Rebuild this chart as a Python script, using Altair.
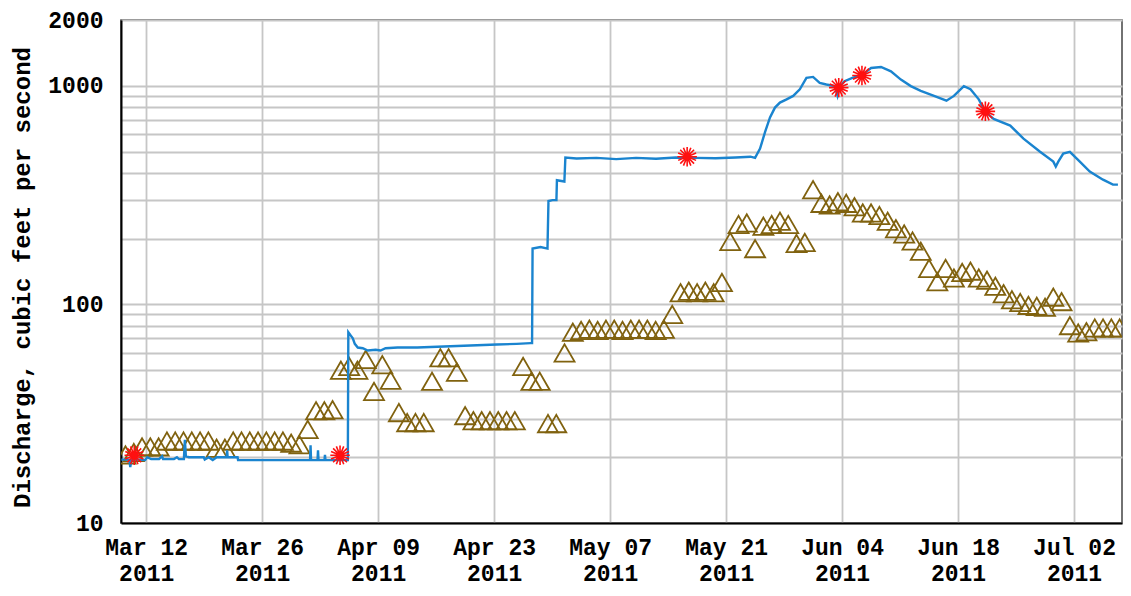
import altair as alt
import pandas as pd

# ---- data ----
# Daily values (brown triangles), one per day starting 2011-03-09
tri_cfs = [20.5, 21, 22.3, 22.3, 22.3, 23.7, 23.7, 23.7, 23.7, 23.7,
           23.7, 22, 22, 23.7, 23.7, 23.7, 23.7, 23.7, 23.7, 23.7,
           23.2, 22.8, 26.8, 32.6, 32.6, 33, 50, 52, 50, 56,
           40, 53, 45, 32, 28.8, 28.8, 28.8, 44.5, 57, 57,
           49, 31, 29.4, 29.4, 29.4, 29.4, 29.4, 29.4, 52, 44.5,
           44.5, 28.5, 28.5, 60, 74.6, 76, 77, 76, 77, 77,
           76, 77, 77, 77, 76, 77, 90, 113, 115, 113,
           115, 113, 126, 194, 232, 236, 180, 228, 232, 240,
           232, 190, 192, 335, 290, 285, 295, 290, 280, 262,
           262, 255, 240, 222, 210, 195, 175, 146, 127, 146,
           132, 140, 142, 132, 129, 121, 112, 105, 102, 99,
           98, 97, 108, 103, 80, 74, 75, 78, 78, 78, 78]

# Instantaneous discharge (blue line): days since 2011-03-09 00:00, cfs
blue_t = [0.00, 0.60, 0.96, 1.08, 1.20, 2.16, 2.88, 3.12, 3.60, 4.56,
          4.92, 5.04, 6.35, 6.71, 6.95, 7.55, 7.67, 7.79, 8.15, 9.95,
          10.07, 10.55, 11.03, 11.51, 12.71, 12.77, 12.83, 14.03, 14.09, 22.78,
          22.84, 22.90, 23.68, 23.74, 23.80, 24.52, 24.58, 24.64, 27.34, 27.40,
          27.70, 27.94, 28.18, 28.54, 29.14, 29.74, 30.70, 31.29, 31.89, 33.33,
          35.73, 38.13, 40.53, 42.93, 45.32, 47.72, 49.40, 49.58, 49.64, 50.60,
          51.44, 51.56, 52.04, 52.52, 52.58, 53.48, 53.60, 54.95, 57.35, 59.74,
          62.14, 64.54, 66.94, 69.34, 71.74, 74.14, 75.94, 76.50, 77.10, 77.70,
          78.30, 78.90, 79.50, 80.30, 81.10, 81.90, 82.70, 83.50, 84.30, 85.10,
          86.10, 86.45, 86.70, 87.30, 88.25, 89.45, 90.50, 91.70, 92.90, 94.10,
          95.30, 96.50, 98.10, 99.60, 100.50, 101.70, 102.50, 103.50, 104.30, 105.30,
          107.30, 108.90, 110.90, 112.50, 112.80, 113.10, 113.70, 114.50, 115.70, 116.90,
          118.50, 119.70, 120.30]
blue_cfs = [19.5, 19.5, 19.5, 18.0, 19.5, 19.5, 19.4, 20.0, 19.6, 19.6,
            20.2, 19.6, 19.6, 20.0, 19.6, 19.6, 24.0, 20.2, 20.0, 20.0,
            19.5, 20.0, 19.4, 20.0, 20.0, 21.5, 20.0, 20.0, 19.4, 19.4,
            22.7, 19.4, 19.4, 21.5, 19.4, 19.4, 20.5, 19.4, 19.4, 74.6,
            72, 70, 66, 63.5, 63, 61.5, 62, 61.5, 63, 63.5,
            63.5, 64, 64.5, 65, 65.5, 66, 66.5, 66.5, 180, 183,
            180, 297, 300, 300, 370, 365, 470, 465, 468, 462,
            468, 464, 470, 468, 466, 470, 474, 468, 516, 614,
            717, 795, 838, 867, 899, 964, 1087, 1098, 1031, 1014,
            997, 900, 990, 1049, 1087, 1125, 1206, 1219, 1164, 1068,
            997, 948, 899, 855, 899, 997, 964, 867, 760, 705,
            658, 573, 499, 450, 427, 450, 490, 499, 450, 405,
            372, 353, 353]

# Field measurements (red asterisks)
meas_t = [1.56, 26.4, 68.3, 86.6, 89.4, 104.3]
meas_cfs = [20.4, 20.4, 474, 981, 1114, 764]

tick_dates = [(3, 12), (3, 26), (4, 9), (4, 23), (5, 7), (5, 21), (6, 4), (6, 18), (7, 2)]
y_grid = [10, 20, 30, 40, 50, 60, 70, 80, 90,
          100, 200, 300, 400, 500, 600, 700, 800, 900, 1000, 2000]
y_labels = [10, 100, 1000, 2000]

# ---- build tables ----
base = pd.Timestamp("2011-03-09")
tri_df = pd.DataFrame({
    "date": [base + pd.Timedelta(days=i, hours=12) for i in range(len(tri_cfs))],
    "cfs": tri_cfs,
})
blue_df = pd.DataFrame({
    "date": [base + pd.Timedelta(days=t) for t in blue_t],
    "cfs": blue_cfs,
})
meas_df = pd.DataFrame({
    "date": [base + pd.Timedelta(days=t) for t in meas_t],
    "cfs": meas_cfs,
})

FONT = "Liberation Mono"
x_scale = alt.Scale(domain=[alt.DateTime(year=2011, month=3, date=8, hours=23),
                            alt.DateTime(year=2011, month=7, date=7, hours=19)])
y_scale = alt.Scale(type="log", domain=[10, 2000], nice=False)

label_cond = " || ".join(f"datum.value == {v}" for v in y_labels)

x_enc = alt.X("date:T", scale=x_scale, title=None,
              axis=alt.Axis(values=[alt.DateTime(year=2011, month=m, date=d) for m, d in tick_dates],
                            labelExpr="[timeFormat(datum.value, '%b %d'), timeFormat(datum.value, '%Y')]",
                            ticks=False, labelPadding=13, labelLineHeight=26,
                            labelFontSize=23, labelFont=FONT, labelFontWeight="bold",
                            labelColor="black", domainColor="black", domainWidth=2,
                            gridColor="#c6c6c6", gridWidth=1.8))
y_enc = alt.Y("cfs:Q", scale=y_scale,
              title="Discharge, cubic feet per second",
              axis=alt.Axis(values=y_grid,
                            labelExpr=f"({label_cond}) ? format(datum.value, 'd') : ''",
                            ticks=False, labelPadding=18,
                            labelFontSize=23, labelFont=FONT, labelFontWeight="bold",
                            labelColor="black", domainColor="black", domainWidth=2,
                            gridColor="#c6c6c6", gridWidth=1.8,
                            titleFont=FONT, titleFontSize=24, titleFontWeight="bold",
                            titleColor="black", titleAngle=270, titleX=-99, titleY=257,
                            titleAlign="center", titleBaseline="middle"))

tri = alt.Chart(tri_df).mark_point(
    shape="triangle-up", filled=False, size=400, stroke="#80620f",
    strokeWidth=1.8, opacity=1, clip=True
).encode(x=x_enc, y=y_enc)

line = alt.Chart(blue_df).mark_line(
    color="#1a84cf", strokeWidth=2.4, clip=True
).encode(x="date:T", y="cfs:Q")

star_path = ("M-1,0L1,0M0,-1L0,1M-0.71,-0.71L0.71,0.71M-0.71,0.71L0.71,-0.71"
             "M-0.92,-0.38L0.92,0.38M-0.38,-0.92L0.38,0.92M0.38,-0.92L-0.38,0.92M0.92,-0.38L-0.92,0.38")
meas = alt.Chart(meas_df).mark_point(
    shape=star_path, filled=False, size=380, stroke="#ff1010", strokeWidth=1.6, opacity=1
).encode(x="date:T", y="cfs:Q")
meas_c = alt.Chart(meas_df).mark_point(
    shape="circle", filled=True, size=45, color="#ff1010", opacity=1
).encode(x="date:T", y="cfs:Q")

chart = alt.layer(tri, line, meas, meas_c).properties(
    width=1001, height=503,
    autosize=alt.AutoSizeParams(type="none"),
    padding={"left": 113, "top": 12, "right": 1, "bottom": 65},
).configure_view(stroke="#444444", strokeWidth=1.5)

chart.save("out.html", embed_options={"renderer": "svg", "actions": False})
